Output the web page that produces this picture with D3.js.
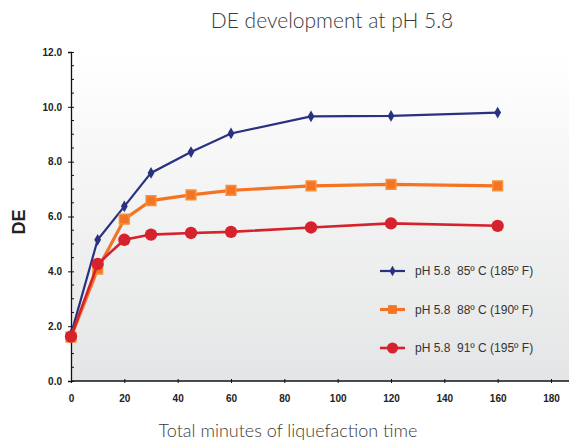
<!DOCTYPE html>
<html>
<head>
<meta charset="utf-8">
<script src="https://cdn.jsdelivr.net/npm/d3@7"></script>
<style>
  body { margin: 0; background: #fff; }
  svg { display: block; }
</style>
</head>
<body>
<script>
// data
var minutes = [0, 10, 20, 30, 45, 60, 90, 120, 160]
var de85 = [1.70, 5.15, 6.37, 7.59, 8.35, 9.03, 9.65, 9.67, 9.79]
var de88 = [1.60, 4.08, 5.90, 6.58, 6.79, 6.95, 7.12, 7.17, 7.12]
var de91 = [1.62, 4.27, 5.15, 5.34, 5.40, 5.44, 5.60, 5.75, 5.66]
var seriesNames = ["pH 5.8  85º C (185º F)", "pH 5.8  88º C (190º F)", "pH 5.8  91º C (195º F)"]
var xTicks = [0, 20, 40, 60, 80, 100, 120, 140, 160, 180]
var yTicks = [0, 2, 4, 6, 8, 10, 12]

var width = 569
var height = 442

var margin = { top: 52, right: 0, bottom: 61, left: 71 }

var svg = d3.select("body")
    .append("svg")
    .attr("width", width)
    .attr("height", height)

var x = d3.scaleLinear()
    .domain([0, 180])
    .range([margin.left, 551])

var y = d3.scaleLinear()
    .domain([0, 12])
    .range([height - margin.bottom, margin.top])

// plot background gradient
var grad = svg.append("defs").append("linearGradient")
    .attr("id", "bg")
    .attr("x1", 0).attr("y1", 0).attr("x2", 0).attr("y2", 1)
grad.append("stop").attr("offset", "0%").attr("stop-color", "#ffffff")
grad.append("stop").attr("offset", "100%").attr("stop-color", "#e4e5e6")

svg.append("rect")
    .attr("x", margin.left)
    .attr("y", margin.top)
    .attr("width", width - margin.left)
    .attr("height", y(0) - margin.top)
    .attr("fill", "url(#bg)")

// title
svg.append("text")
    .attr("x", 332)
    .attr("y", 28)
    .attr("text-anchor", "middle")
    .attr("font-family", "Lato, 'Open Sans', sans-serif")
    .attr("font-weight", 300)
    .attr("font-size", 21)
    .attr("fill", "#3a3a3a")
    .text("DE development at pH 5.8")

// y axis
var ejeY = d3.axisLeft(y)
    .tickValues(yTicks)
    .tickFormat(d3.format(".1f"))
    .tickSize(3)
    .tickPadding(6)

var gy = svg.append("g")
    .attr("transform", "translate(" + margin.left + ",0)")
    .call(ejeY)
gy.select(".domain").attr("stroke", "#111").attr("stroke-width", 1.3)
gy.selectAll(".tick line").attr("x2", 3).attr("x1", -3).attr("stroke", "#111")
gy.selectAll("text")
    .attr("font-family", "'Liberation Sans Narrow', 'Liberation Sans', Arial, sans-serif")
    .attr("font-weight", "bold")
    .attr("font-size", 10)
    .attr("fill", "#222")

// minor ticks on y
var minor = d3.range(0.5, 12, 0.5).filter(function (d) { return d % 2 != 0 })
gy.selectAll(".minor")
    .data(minor)
    .enter()
    .append("line")
    .attr("class", "minor")
    .attr("x1", 0).attr("x2", 3)
    .attr("y1", function (d) { return y(d) })
    .attr("y2", function (d) { return y(d) })
    .attr("stroke", "#111")

// x axis
var ejeX = d3.axisBottom(x)
    .tickValues(xTicks)
    .tickFormat(d3.format("d"))
    .tickSize(3)
    .tickPadding(11)

var gx = svg.append("g")
    .attr("transform", "translate(0," + y(0) + ")")
    .call(ejeX)
gx.select(".domain").attr("d", "M" + margin.left + ",0H" + width).attr("stroke", "#111").attr("stroke-width", 1.3)
gx.selectAll(".tick line").attr("y1", -2).attr("y2", 2).attr("stroke", "#111")
gx.selectAll("text")
    .attr("font-family", "'Liberation Sans Narrow', 'Liberation Sans', Arial, sans-serif")
    .attr("font-weight", "bold")
    .attr("font-size", 10)
    .attr("fill", "#222")

// axis titles
svg.append("text")
    .attr("x", 288)
    .attr("y", 437)
    .attr("text-anchor", "middle")
    .attr("font-family", "Lato, 'Open Sans', sans-serif")
    .attr("font-weight", 300)
    .attr("font-size", 18)
    .attr("fill", "#3a3a3a")
    .text("Total minutes of liquefaction time")

svg.append("text")
    .attr("transform", "translate(25,222) rotate(-90)")
    .attr("text-anchor", "middle")
    .attr("font-family", "'Liberation Sans', Arial, sans-serif")
    .attr("font-weight", "bold")
    .attr("font-size", 18)
    .attr("fill", "#222")
    .text("DE")

var series = [
    { name: seriesNames[0], values: de85, color: "#29327f", width: 2.2, shape: d3.symbolDiamond, size: 40 },
    { name: seriesNames[1], values: de88, color: "#f47424", width: 3.2, shape: d3.symbolSquare, size: 95 },
    { name: seriesNames[2], values: de91, color: "#d6222c", width: 2.6, shape: d3.symbolCircle, size: 120 }
]

const lineGenerator = d3.line()
    .x(function (d) { return x(d.x) })
    .y(function (d) { return y(d.y) })

// draw lines, then markers on top
series.forEach(function (s) {
    var pts = minutes.map(function (m, i) { return { x: m, y: s.values[i] } })
    svg.append("path")
        .attr("d", lineGenerator(pts))
        .attr("stroke", s.color)
        .attr("stroke-width", s.width)
        .attr("fill", "none")
    svg.selectAll(null)
        .data(pts)
        .enter()
        .append("path")
        .attr("d", d3.symbol().type(s.shape).size(s.size))
        .attr("transform", function (d) { return "translate(" + x(d.x) + "," + y(d.y) + ")" })
        .attr("fill", s.color)
        .attr("stroke", s.shape == d3.symbolSquare ? "#f7913a" : "none")
        .attr("stroke-width", 1.5)
})

// legend
var legend = svg.append("g").attr("transform", "translate(380,271)")
series.forEach(function (s, i) {
    var row = legend.append("g").attr("transform", "translate(0," + (i * 38.5) + ")")
    row.append("line")
        .attr("x1", 0).attr("x2", 25)
        .attr("stroke", s.color)
        .attr("stroke-width", s.width)
    row.append("path")
        .attr("d", d3.symbol().type(s.shape).size(s.size * 0.8))
        .attr("transform", "translate(12.5,0)")
        .attr("fill", s.color)
    row.append("text")
        .attr("x", 35)
        .attr("y", 4)
        .style("white-space", "pre")
        .attr("font-family", "'Liberation Sans', Arial, sans-serif")
        .attr("font-size", 12)
        .attr("fill", "#333")
        .text(s.name)
})
</script>
</body>
</html>
